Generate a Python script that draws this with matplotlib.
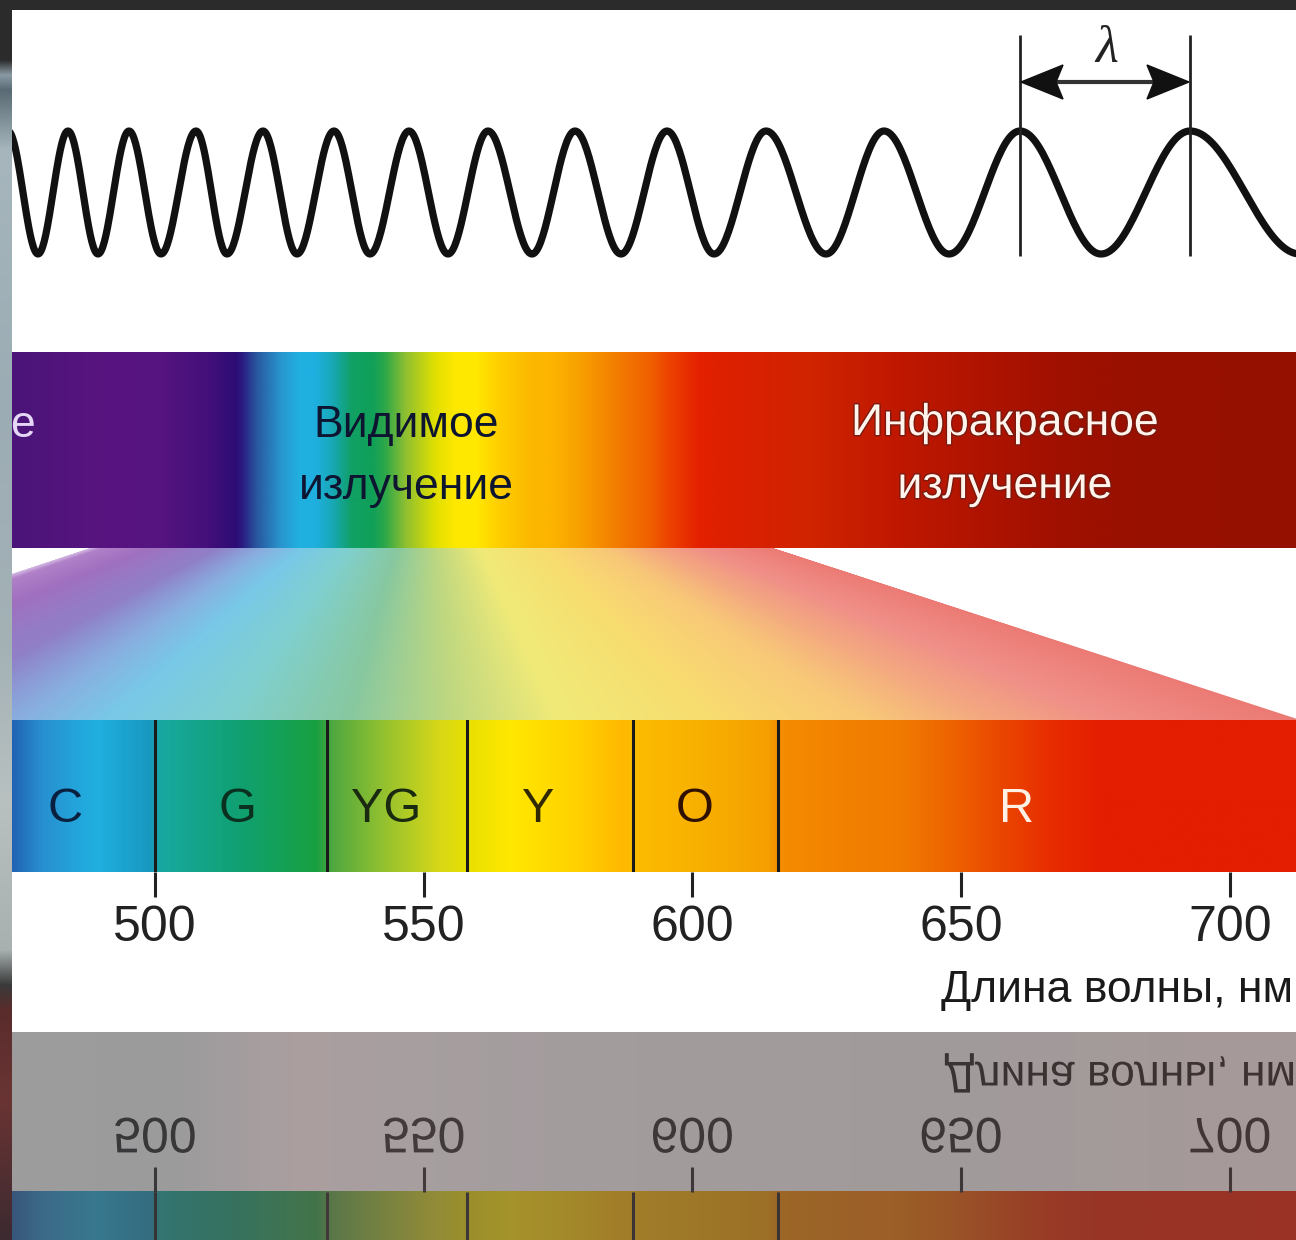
import numpy as np
import matplotlib
matplotlib.use("Agg")
import matplotlib.pyplot as plt
from matplotlib.patches import Rectangle, Polygon, PathPatch
from matplotlib.textpath import TextPath
from matplotlib.font_manager import FontProperties
from matplotlib.transforms import Affine2D
from matplotlib.colors import to_rgb
import matplotlib.patheffects as pe

W, H = 1296, 1240
FONT = ['Liberation Sans', 'DejaVu Sans']

# --- волна (положения максимумов и минимумов, px) ---
WAVE_PEAKS = [8, 68, 129, 196, 263, 334, 409, 488, 575, 667, 766, 884, 1020, 1190]
WAVE_TROUGHS = [38, 98, 161, 227, 297, 370, 448, 532, 621, 714, 826, 949, 1101, 1300]
WAVE_TOP, WAVE_BOTTOM = 131, 254
LAMBDA_PEAKS = [1020, 1190]

# --- верхняя полоса (шкала излучений) ---
MID_X = [12, 104, 160, 207, 236, 242, 257, 282, 300, 315, 332, 352, 373, 386, 406, 435, 456, 477,
         497, 530, 551, 580, 622, 650, 671, 700, 729, 812, 895, 978, 1060, 1143, 1296]
MID_COLORS = ['#4a1478', '#581580', '#561480', '#44107a', '#2c0c74', '#2a1a80', '#2858a0', '#2898d0',
              '#20b0e0', '#20b0e0', '#18a8b8', '#10a064', '#10a058', '#30a848', '#90c030', '#e0e000',
              '#ffe800', '#ffe800', '#ffd000', '#fcb800', '#fcb400', '#f8a000', '#f27800', '#f06000',
              '#ec4000', '#e42000', '#dc2000', '#d02400', '#c01800', '#b01400', '#a01000', '#981000',
              '#961000']
UV_TAIL = 'е'
VISIBLE_LABEL = ['Видимое', 'излучение']
IR_LABEL = ['Инфракрасное', 'излучение']

# --- веер между полосами (цвет по доле ширины) ---
FAN_S = [0.0, 0.02, 0.09, 0.19, 0.26, 0.31, 0.38, 0.45, 0.51, 0.57, 0.66, 0.75, 0.82, 0.89, 1.0]
FAN_COLORS = ['#d8c0e8', '#b080c8', '#a070c0', '#9080c8', '#88b0e0', '#78c8e8', '#80d0d0', '#88c8a0',
              '#c0d880', '#f0ea78', '#f8dc70', '#f8c878', '#f4a880', '#f09088', '#ec7a74']

# --- нижняя полоса (длина волны, нм) ---
XLIM_NM = (473.4, 712.3)
SPEC_NM = [473, 479, 489, 499, 501, 516, 530, 533, 542, 553, 558.4, 566, 579, 587, 589, 601, 614,
           616, 629, 639, 648, 657, 667, 676, 713]
SPEC_COLORS = ['#2060b0', '#2890d0', '#20b0e0', '#1898c0', '#18a8a0', '#10a070', '#18a040', '#50a840',
               '#90c030', '#d8d818', '#e8e000', '#ffe800', '#ffd000', '#ffb800', '#fcbc00', '#f8b000',
               '#f5a000', '#f58c00', '#f28000', '#f07a00', '#ee6400', '#ea4800', '#e82c00', '#e41e00',
               '#e41e00']
BOUNDS_NM = [500, 532, 558, 589, 616]
BAND_LABELS = ['C', 'G', 'YG', 'Y', 'O', 'R']
BAND_LABEL_NM = [483.3, 515.3, 543.0, 571.3, 600.5, 660.4]
BAND_LABEL_COLORS = ['#0a2040', '#0a3020', '#1a2a10', '#302800', '#301000', '#fff0e6']
TICKS_NM = [500, 550, 600, 650, 700]
XLABEL = 'Длина волны, нм'

# --- фон слева и отражение ---
LEFT_Y = [0, 60, 75, 90, 150, 400, 650, 800, 950, 985, 1010, 1100, 1240]
LEFT_COLORS = ['#2b2b2b', '#2b2b2b', '#8a9aa4', '#5a6a74', '#a6b6bc', '#9cacb4', '#a4b2b6', '#b8c0c0',
               '#a8b0b0', '#3a3a3a', '#5a2c2c', '#6a3434', '#3c2a30']
REF_X = [12, 180, 300, 450, 700, 1000, 1296]
REF_TINT = ['#4c4c4e', '#4c4a4c', '#665052', '#5c4e50', '#544a4a', '#564848', '#5e4646']


def ramp(pos, colors, grid):
    rgb = np.array([to_rgb(c) for c in colors])
    return np.stack([np.interp(grid, pos, rgb[:, k]) for k in range(3)], axis=-1)


fig = plt.figure(figsize=(W / 100, H / 100), dpi=100)
fig.patch.set_facecolor('#2b2b2b')

# основная ось в пикселях
ax = fig.add_axes([0, 0, 1, 1])
ax.axis('off')

left = ramp(LEFT_Y, LEFT_COLORS, np.arange(H) + 0.5)[:, None, :]
ax.imshow(left, extent=(0, 12, H, 0), aspect='auto', zorder=1)
panel = Rectangle((12, 10), W - 12, 1032 - 10, facecolor='white', edgecolor='none', zorder=1)
ax.add_patch(panel)

# волна
ext = sorted([(x, WAVE_TOP) for x in WAVE_PEAKS] + [(x, WAVE_BOTTOM) for x in WAVE_TROUGHS])
mid = (WAVE_TOP + WAVE_BOTTOM) / 2
wx, wy = [], []
for (x0, y0), (x1, y1) in zip(ext[:-1], ext[1:]):
    xs = np.linspace(x0, x1, 40)
    wx.extend(xs)
    wy.extend(mid + (y0 - mid) * np.cos(np.pi * (xs - x0) / (x1 - x0)))
line, = ax.plot(wx, wy, color='#111111', lw=5.2, solid_capstyle='round', zorder=4)
line.set_clip_path(panel)

# лямбда
ax.vlines(LAMBDA_PEAKS, 35, 256, color='#222222', lw=2, zorder=5)
ay = 82
xa, xb = LAMBDA_PEAKS
ax.plot([xa + 30, xb - 30], [ay, ay], color='#333333', lw=3, zorder=5)
hl, hw, ind = 43, 17, 7
ax.add_patch(Polygon([(xa + 1, ay), (xa + hl, ay - hw), (xa + hl - ind, ay), (xa + hl, ay + hw)],
                     closed=True, color='#111111', zorder=6))
ax.add_patch(Polygon([(xb - 1, ay), (xb - hl, ay - hw), (xb - hl + ind, ay), (xb - hl, ay + hw)],
                     closed=True, color='#111111', zorder=6))
ax.text((xa + xb) / 2 + 2, 62, 'λ', family=['Liberation Serif', 'DejaVu Serif'], style='italic',
        fontsize=38, ha='center', va='baseline', color='#222222', zorder=6)

# верхняя полоса
gx = np.arange(12, W) + 0.5
ax.imshow(ramp(MID_X, MID_COLORS, gx)[None, :, :], extent=(12, W, 548, 352), aspect='auto',
          interpolation='bilinear', zorder=2)
ax.text(35, 437, UV_TAIL, family=FONT, fontsize=32, ha='right', va='baseline',
        color='#e6d6f6', zorder=3)
for txt, yb in zip(VISIBLE_LABEL, [437, 499]):
    ax.text(406, yb, txt, family=FONT, fontsize=32, ha='center', va='baseline',
            color='#0e1530', zorder=3)
for txt, yb in zip(IR_LABEL, [435, 498]):
    ax.text(1005, yb, txt, family=FONT, fontsize=32, ha='center', va='baseline', color='#fff4ec',
            zorder=3, path_effects=[pe.withStroke(linewidth=2, foreground='#7a1a10')])

# веер
yy, xx = np.mgrid[548:720, 12:W] + 0.5
tt = (yy - 548) / (720 - 548)
xl = 89 + tt * (-430 - 89)
xr = 774 + tt * (1302 - 774)
s = (xx - xl) / (xr - xl)
fan = np.zeros(s.shape + (4,))
fan[..., :3] = ramp(FAN_S, FAN_COLORS, np.clip(s, 0, 1).ravel()).reshape(s.shape + (3,))
fan[..., 3] = np.clip(np.minimum(s, 1 - s) * 500, 0, 1)
ax.imshow(fan, extent=(12, W, 720, 548), aspect='auto', interpolation='bilinear', zorder=2)

ax.set_xlim(0, W)
ax.set_ylim(H, 0)

# нижняя полоса в нм
ax_sp = fig.add_axes([12 / W, (H - 872) / H, (W - 12) / W, 152 / H])
ax_sp.set_facecolor('none')
ng = np.linspace(XLIM_NM[0], XLIM_NM[1], 1400)
ax_sp.imshow(ramp(SPEC_NM, SPEC_COLORS, ng)[None, :, :], extent=(XLIM_NM[0], XLIM_NM[1], 0, 1),
             aspect='auto', interpolation='bilinear')
for b in BOUNDS_NM:
    ax_sp.axvline(b, color='#1a1a1a', lw=2.2)
for lab, x, c in zip(BAND_LABELS, BAND_LABEL_NM, BAND_LABEL_COLORS):
    ax_sp.text(x, 0.33, lab, family=FONT, fontsize=35, ha='center', va='baseline', color=c)
ax_sp.set_xlim(*XLIM_NM)
ax_sp.set_ylim(0, 1)
ax_sp.set_yticks([])
ax_sp.set_xticks(TICKS_NM, labels=[str(v) for v in TICKS_NM], family=FONT, fontsize=36,
                 color='#222222')
ax_sp.tick_params(axis='x', direction='out', length=18, width=2.2, color='#222222', pad=6)
for sp in ax_sp.spines.values():
    sp.set_visible(False)
XLABEL_FRAC = 1 - 3 / (W - 12)
ax_sp.set_xlabel(XLABEL, family=FONT, fontsize=32, color='#1a1a1a', loc='right')
ax_sp.xaxis.set_label_coords(XLABEL_FRAC, -(1002 - 872) / 152)
ax_sp.xaxis.label.set_va('baseline')

# отражение
PX_PER_NM = (W - 12) / (XLIM_NM[1] - XLIM_NM[0])
ax_ref = fig.add_axes([12 / W, 0, (W - 12) / W, (H - 1032) / H])
ax_ref.axis('off')
ax_ref.add_patch(Rectangle((XLIM_NM[0], 824), XLIM_NM[1] - XLIM_NM[0], 1032 - 824,
                           facecolor='white', edgecolor='none', zorder=0))
ax_ref.imshow(ramp(SPEC_NM, SPEC_COLORS, ng)[None, :, :], extent=(XLIM_NM[0], XLIM_NM[1], 720, 872),
              aspect='auto', interpolation='bilinear', zorder=1)
ax_ref.vlines(BOUNDS_NM, 720, 872, color='#1a1a1a', lw=2.2, zorder=2)
ax_ref.vlines(TICKS_NM, 872, 897, color='#222222', lw=2.2, zorder=2)


def mirror_text(axis, x, y, s, size_pt, family, color, ha='center'):
    path = TextPath((0, 0), s, size=size_pt * 100 / 72, prop=FontProperties(family=family))
    e = path.get_extents()
    dx = -(e.x0 + e.x1) / 2 if ha == 'center' else -e.x1
    tr = Affine2D().translate(dx, 0).scale(1 / PX_PER_NM, -1).translate(x, y)
    axis.add_patch(PathPatch(tr.transform_path(path), facecolor=color, edgecolor='none', zorder=3))


for v in TICKS_NM:
    mirror_text(ax_ref, v, 946, str(v), 36, FONT, '#222222')
mirror_text(ax_ref, XLIM_NM[0] + XLABEL_FRAC * (XLIM_NM[1] - XLIM_NM[0]), 1002, XLABEL, 32, FONT,
            '#1a1a1a', ha='right')

tint = np.zeros((1, W - 12, 4))
tint[..., :3] = ramp(REF_X, REF_TINT, gx)[None, :, :]
tint[..., 3] = 0.55
ax_ref.imshow(tint, extent=(XLIM_NM[0], XLIM_NM[1], 824, 1032), aspect='auto', zorder=10)
ax_ref.set_xlim(*XLIM_NM)
ax_ref.set_ylim(824, 1032)

fig.savefig('out.png', dpi=100, facecolor=fig.get_facecolor())
